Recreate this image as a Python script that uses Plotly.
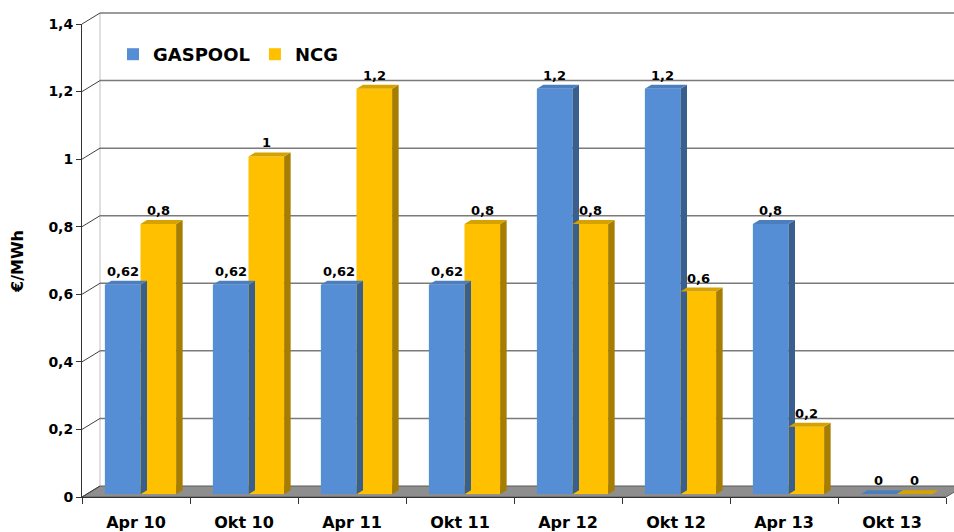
import plotly.graph_objects as go

# data
categories = ["Apr 10", "Okt 10", "Apr 11", "Okt 11", "Apr 12", "Okt 12", "Apr 13", "Okt 13"]
gaspool = [0.62, 0.62, 0.62, 0.62, 1.2, 1.2, 0.8, 0]
ncg = [0.8, 1.0, 1.2, 0.8, 0.8, 0.6, 0.2, 0]
y_ticks = [0, 0.2, 0.4, 0.6, 0.8, 1.0, 1.2, 1.4]

W, H = 954, 532
FONT = "DejaVu Sans"

# pixel geometry of the fake 3D box
front_l, front_r = 82, 946      # front x axis, pixels
front_b, front_t = 497, 24      # front y axis (0 and 1.4)
depth_x, depth_y = 18, 11       # offset of the back wall
bar_f = 0.25                    # bars sit a quarter of the way in
bar_w = 0.33                    # width of one bar, in category units
side_px, top_px = 6.5, 4        # visible depth of each bar

ymax = y_ticks[-1]
cat_px = (front_r - front_l) / len(categories)
val_px = (front_b - front_t) / ymax
dx = side_px / cat_px
dy = top_px / val_px


def px(x):
    return x / W


def py(y):
    return 1 - y / H


blue = dict(front="#558ED5", side="#395F8E", top="#4B7EBE")
gold = dict(front="#FFC000", side="#A67D00", top="#D6A200")

fig = go.Figure()

series = [("GASPOOL", gaspool, -bar_w, blue), ("NCG", ncg, 0.0, gold)]
for name, vals, off, col in series:
    xs = list(range(len(categories)))
    fig.add_trace(go.Bar(
        x=xs, y=vals, width=bar_w, offset=off, name=name,
        marker=dict(color=col["front"], line=dict(width=0)),
        hoverinfo="skip",
    ))
    for i, v in enumerate(vals):
        xl = i + off
        xr = xl + bar_w
        # right side face
        fig.add_trace(go.Scatter(
            x=[xr, xr + dx, xr + dx, xr, xr], y=[0, dy, v + dy, v, 0],
            fill="toself", fillcolor=col["side"], mode="lines",
            line=dict(width=0), showlegend=False, hoverinfo="skip"))
        # top face
        fig.add_trace(go.Scatter(
            x=[xl, xr, xr + dx, xl + dx, xl], y=[v, v, v + dy, v + dy, v],
            fill="toself", fillcolor=col["top"], mode="lines",
            line=dict(width=0), showlegend=False, hoverinfo="skip"))
        fig.add_annotation(
            x=xl + bar_w / 2, y=v, text=f"{v:g}".replace(".", ","),
            showarrow=False, yanchor="bottom", yshift=4,
            font=dict(family=FONT, size=13, color="black", weight="bold"))

# empty trace to hold the front axes
fig.add_trace(go.Scatter(x=[None], y=[None], xaxis="x2", yaxis="y2",
                         showlegend=False, hoverinfo="skip"))

# back wall, floor and side wall lines (shapes in paper space)
shapes = []
back_l = front_l + depth_x
floor_path = (f"M {px(front_l)},{py(front_b)} L {px(front_r)},{py(front_b)} "
              f"L {px(front_r + depth_x)},{py(front_b - depth_y)} "
              f"L {px(back_l)},{py(front_b - depth_y)} Z")
shapes.append(dict(type="path", path=floor_path, xref="paper", yref="paper",
                   fillcolor="#8E8E8E", line=dict(color="#5a5a5a", width=1),
                   layer="below"))
shapes.append(dict(type="line", xref="paper", yref="paper",
                   x0=px(back_l), x1=px(back_l),
                   y0=py(front_b - depth_y), y1=py(front_t - depth_y),
                   line=dict(color="#c0c0c0", width=1), layer="below"))
for v in y_ticks:
    yf = front_b - v * val_px
    yb = yf - depth_y
    shapes.append(dict(type="line", xref="paper", yref="paper",
                       x0=px(front_l), y0=py(yf), x1=px(back_l), y1=py(yb),
                       line=dict(color="#404040", width=1), layer="below"))
    if v > 0:
        shapes.append(dict(type="line", xref="paper", yref="paper",
                           x0=px(back_l), y0=py(yb), x1=1, y1=py(yb),
                           line=dict(color="#7a7a7a", width=1.5), layer="below"))
fig.update_layout(shapes=shapes)

bar_l = front_l + bar_f * depth_x
bar_b = front_b - bar_f * depth_y
fig.update_layout(
    width=W, height=H,
    margin=dict(l=0, r=0, t=0, b=0, pad=0, autoexpand=False),
    paper_bgcolor="white", plot_bgcolor="rgba(0,0,0,0)",
    separators=", ",
    barmode="overlay",
    xaxis=dict(domain=[px(bar_l), px(bar_l + front_r - front_l)],
               range=[-0.5, len(categories) - 0.5], visible=False,
               fixedrange=True, automargin=False),
    yaxis=dict(domain=[py(bar_b), py(bar_b - (front_b - front_t))],
               range=[0, ymax], visible=False, fixedrange=True, automargin=False),
    xaxis2=dict(domain=[px(front_l), px(front_r)], anchor="y2",
                range=[-0.5, len(categories) - 0.5], automargin=False,
                tickvals=list(range(len(categories))), ticktext=categories,
                ticks="", ticklabelstandoff=11,
                minor=dict(tickvals=[i - 0.5 for i in range(len(categories) + 1)],
                           ticks="outside", ticklen=6, tickcolor="#333",
                           showgrid=False),
                showline=True, linecolor="#333", linewidth=1,
                showgrid=False, zeroline=False,
                tickfont=dict(family=FONT, size=16, color="black", weight="bold")),
    yaxis2=dict(domain=[py(front_b), py(front_t)], anchor="x2",
                range=[0, ymax], tickvals=y_ticks, automargin=False,
                ticks="outside", ticklen=5, tickcolor="#333",
                showline=True, linecolor="#333", linewidth=1,
                showgrid=False, zeroline=False,
                tickfont=dict(family=FONT, size=14, color="black", weight="bold")),
    legend=dict(orientation="h", x=px(113), y=py(36), xanchor="left", yanchor="top",
                bgcolor="rgba(0,0,0,0)", itemwidth=30, tracegroupgap=0,
                font=dict(family=FONT, size=18, color="black", weight="bold")),
    showlegend=True,
)

fig.add_annotation(x=px(18), y=py(262), xref="paper", yref="paper",
                   xanchor="center", yanchor="middle",
                   text="€/MWh", textangle=-90, showarrow=False,
                   font=dict(family=FONT, size=16, color="black", weight="bold"))

fig.write_html("out.html", config={"displayModeBar": False},
               post_script="document.body.style.margin='0';")
